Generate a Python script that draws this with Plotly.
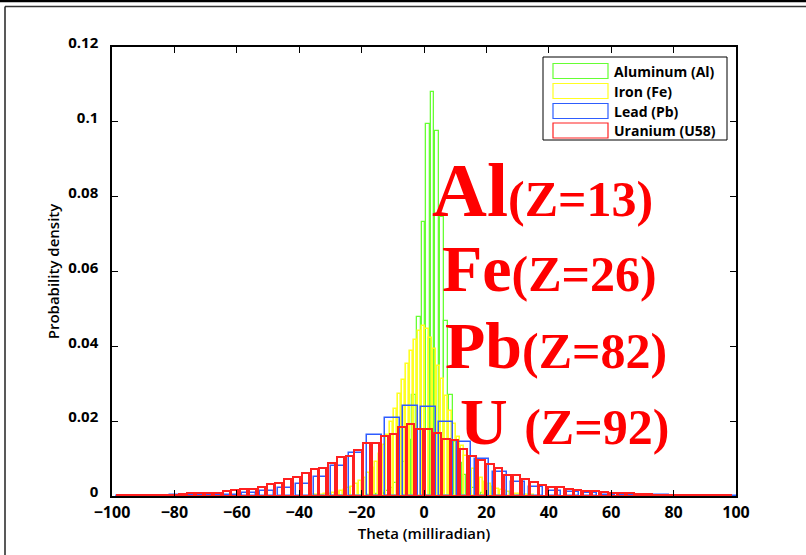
import numpy as np
import plotly.graph_objects as go

# ---------------- data ----------------
series_names = ["Aluminum (Al)", "Iron (Fe)", "Lead (Pb)", "Uranium (U58)"]

# Aluminum: bin width and first bin centre, heights left->right
al_bin_width = 1.47
al_first_center = -0.2 - 1.47 * 12
al_density = [0.0003, 0.0004, 0.0006, 0.0009, 0.0014, 0.0022, 0.0035, 0.0055, 0.009,
               0.015, 0.027, 0.0478, 0.0733, 0.0994, 0.108, 0.0976, 0.0747, 0.0468,
               0.027, 0.0145, 0.0088, 0.0055, 0.0035, 0.0022, 0.0014, 0.0009, 0.0006]

# Iron
fe_bin_width = 1.25
fe_first_center = -0.3 - 1.25 * 28
fe_density = [0.0002, 0.0003, 0.0004, 0.0005, 0.0006, 0.0008, 0.001, 0.0013, 0.0016,
              0.0021, 0.0025, 0.0032, 0.0039, 0.0049, 0.0061, 0.0074, 0.0092, 0.0111,
              0.0137, 0.0162, 0.0198, 0.0232, 0.0272, 0.031, 0.0352, 0.0388, 0.0418,
              0.0442, 0.0455, 0.0447, 0.0422, 0.0393, 0.0348, 0.0312, 0.0268, 0.0228,
              0.0192, 0.0158, 0.0133, 0.0108, 0.0089, 0.0072, 0.0059, 0.0047, 0.0038,
              0.0031, 0.0024, 0.0019, 0.0016, 0.0013, 0.001, 0.0008, 0.0006, 0.0005,
              0.0004, 0.0003, 0.0002]

# Lead
pb_bin_width = 5.75
pb_first_center = 1.4 - 5.75 * 17
pb_density = [0.0001, 0.0001, 0.0001, 0.0002, 0.0002, 0.0003, 0.0004, 0.0007, 0.0013,
              0.0022, 0.0032, 0.0050, 0.0080, 0.0115, 0.0162, 0.0208, 0.0240, 0.0239,
              0.0199, 0.0144, 0.0099, 0.0063, 0.0038, 0.0023, 0.0014, 0.0010, 0.0007,
              0.0004, 0.0003, 0.0002, 0.0002, 0.0001, 0.0001, 0.0001, 0.0001]

# Uranium
u_bin_width = 2.82
u_first_center = 1.41 - 2.82 * 35
u_density = [0.0002, 0.0003, 0.0002, 0.0003, 0.0003, 0.0004, 0.0004, 0.0005, 0.0007,
             0.0008, 0.0007, 0.0009, 0.0013, 0.0016, 0.0018, 0.0020, 0.0025, 0.0032,
             0.0036, 0.0045, 0.0050, 0.0061, 0.0072, 0.0076, 0.0088, 0.0104, 0.0108,
             0.0123, 0.0141, 0.0141, 0.0161, 0.0165, 0.0185, 0.0192, 0.0179, 0.0178,
             0.0168, 0.0152, 0.0149, 0.0125, 0.0108, 0.0096, 0.0086, 0.0074, 0.0056,
             0.0055, 0.0045, 0.0037, 0.0030, 0.0023, 0.0023, 0.0020, 0.0017, 0.0014,
             0.0013, 0.0011, 0.0009, 0.0008, 0.0007, 0.0005, 0.0005, 0.0004, 0.0004,
             0.0003, 0.0003, 0.0003, 0.0002, 0.0002, 0.0002, 0.0002]

x_ticks = [-100, -80, -60, -40, -20, 0, 20, 40, 60, 80, 100]
y_ticks = [0, 0.02, 0.04, 0.06, 0.08, 0.1, 0.12]

labels = [("Al", "(Z=13)"), ("Fe", "(Z=26)"), ("Pb", "(Z=82)"), ("U ", "(Z=92)")]

colors = ["#66ff33", "#ffff22", "#2e5cff", "#ff2020"]

# ---------------- figure ----------------
W, H = 806, 555
ML, MR, MT, MB = 112, 70, 47, 59
PW, PH = W - ML - MR, H - MT - MB


def px(xp):
    return (xp - ML) / PW


def py(yp):
    return (H - MB - yp) / PH


fig = go.Figure()
specs = [
    (al_density, al_first_center, al_bin_width, colors[0], 1.3),
    (fe_density, fe_first_center, fe_bin_width, colors[1], 1.6),
    (pb_density, pb_first_center, pb_bin_width, colors[2], 1.5),
    (u_density, u_first_center, u_bin_width, colors[3], 2.0),
]
for name, (dens, c0, bw, col, lw) in zip(series_names, specs):
    centers = c0 + bw * np.arange(len(dens))
    fig.add_trace(go.Bar(
        x=centers, y=dens, width=0.8 * bw, name=name,
        marker=dict(color="rgba(255,255,255,0)", line=dict(color=col, width=lw)),
        showlegend=False, hoverinfo="x+y",
    ))

fig.update_layout(
    width=W, height=H,
    margin=dict(l=ML, r=MR, t=MT, b=MB),
    paper_bgcolor="white", plot_bgcolor="white",
    barmode="overlay", bargap=0,
    xaxis=dict(range=[-100, 100], tickvals=x_ticks, ticks="inside", ticklen=6,
               tickwidth=1, tickcolor="black", mirror="allticks", showline=True,
               linecolor="black", linewidth=1.5, showgrid=False, zeroline=False,
               ticklabelstandoff=1,
               tickfont=dict(family="Open Sans", size=16, color="black", weight="bold"),
               title=dict(text="Theta (milliradian)", standoff=3,
                          font=dict(family="Open Sans", size=15, color="black", weight=600))),
    yaxis=dict(range=[0, 0.12], tickvals=y_ticks, ticks="inside", ticklen=6,
               tickwidth=1, tickcolor="black", mirror="allticks", showline=True,
               linecolor="black", linewidth=1.5, showgrid=False, zeroline=False,
               ticklabelstandoff=9, ticklabelshift=-4,
               tickfont=dict(family="Open Sans", size=15, color="black", weight="bold"),
               title=dict(text="Probability density", standoff=5,
                          font=dict(family="Open Sans", size=15, color="black", weight=600))),
)

# manual legend
shapes = []
annotations = []
lx0, lx1, ly0, ly1 = 543, 727, 57, 140
shapes.append(dict(type="rect", xref="paper", yref="paper", x0=px(lx0), x1=px(lx1),
                   y0=py(ly1), y1=py(ly0), line=dict(color="black", width=1),
                   fillcolor="white", layer="above"))
row_y = [71, 91, 111, 130.5]
for name, col, ry in zip(series_names, colors, row_y):
    shapes.append(dict(type="rect", xref="paper", yref="paper", x0=px(553), x1=px(608),
                       y0=py(ry + 7.5), y1=py(ry - 7.5), line=dict(color=col, width=1.2),
                       fillcolor="rgba(0,0,0,0)", layer="above"))
    annotations.append(dict(x=px(612), y=py(ry), xref="paper", yref="paper", text=name,
                            showarrow=False, xanchor="left", yanchor="middle",
                            font=dict(family="Open Sans", size=14, color="black", weight="bold")))

# big element labels
label_pos = [(430, 190), (440, 268), (443, 345), (458, 421)]
big_sizes = [76, 66, 66, 66]
for (el, zt), (lx, ly), bs in zip(labels, label_pos, big_sizes):
    annotations.append(dict(
        x=px(lx), y=py(ly), xref="paper", yref="paper", showarrow=False,
        xanchor="left", yanchor="middle",
        text=f"<b>{el}<span style='font-size:50px'>{zt}</span></b>",
        font=dict(family="Liberation Serif", size=bs, color="#ff0000")))

# outer frame lines (screenshot border)
shapes.append(dict(type="line", xref="paper", yref="paper", x0=px(0), x1=px(W),
                   y0=py(1), y1=py(1), line=dict(color="black", width=2.5)))
shapes.append(dict(type="line", xref="paper", yref="paper", x0=px(5), x1=px(W),
                   y0=py(6.5), y1=py(6.5), line=dict(color="#333", width=1.5)))
shapes.append(dict(type="line", xref="paper", yref="paper", x0=px(5), x1=px(5),
                   y0=py(6.5), y1=py(H), line=dict(color="#222", width=1.5)))

fig.update_layout(shapes=shapes, annotations=annotations)
fig.write_html("out.html")
